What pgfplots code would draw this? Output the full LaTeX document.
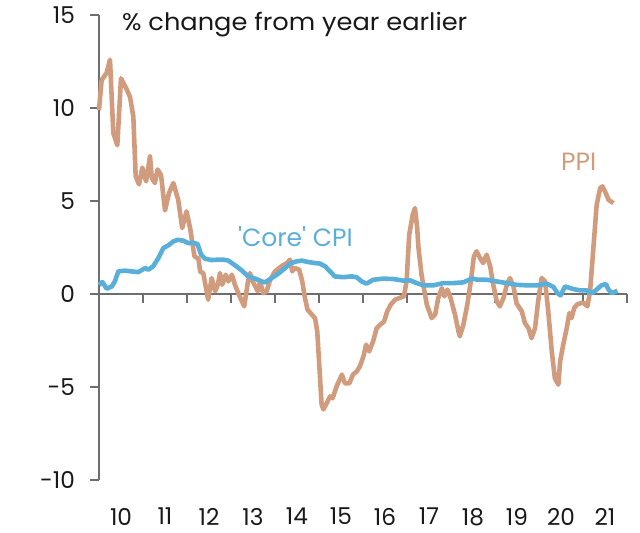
\documentclass[border=0pt]{standalone}
\usepackage{fontspec}
\setmainfont{Poppins}
\usepackage{graphicx}
\usepackage{pgfplots}
\pgfplotsset{compat=1.18}
\definecolor{ppicol}{RGB}{209,156,126}
\definecolor{cpicol}{RGB}{90,175,218}
\definecolor{axcol}{RGB}{110,110,110}
\definecolor{txtcol}{RGB}{25,25,25}
\begin{document}
\begin{tikzpicture}
\begin{axis}[
  at={(0,0)}, anchor=south west,
  scale only axis, width=264pt, height=232.5pt,
  xmin=2010, xmax=2022, ymin=-10, ymax=15,
  axis y line=left, axis x line=middle,
  axis line style={axcol, line width=0.7pt, -},
  xtick={2010,2011,...,2022}, xticklabels={},
  extra x ticks={2010.5,2011.5,...,2021.5},
  extra x tick labels={10,11,12,13,14,15,16,17,18,19,20,21},
  extra x tick style={major tick length=0pt, tick label style={yshift=-103.5pt}},
  ytick={-10,-5,0,5,10,15},
  tick align=outside, major tick length=4.5pt,
  tick style={axcol, line width=0.7pt},
  tick label style={font=\fontsize{11.6}{13}\selectfont, text=txtcol},
  /pgf/number format/assume math mode=true,
  yticklabel style={xshift=-4pt},
  clip=false,
]
\addplot[ppicol, line width=2.3pt, line join=round] coordinates {
(2010.00,9.9) (2010.06,11.5) (2010.175,11.9) (2010.25,12.6) (2010.325,8.66) (2010.416,8.0)
(2010.5,11.6) (2010.63,11.0) (2010.705,10.6) (2010.78,9.55) (2010.834,6.33) (2010.91,5.9)
(2010.984,6.8) (2011.07,6.06) (2011.16,7.4) (2011.2,6.24) (2011.27,5.97) (2011.33,6.7)
(2011.41,6.4) (2011.5,4.5) (2011.59,5.43) (2011.69,5.97) (2011.8,5.07) (2011.89,3.55)
(2011.99,4.45) (2012.07,3.55) (2012.17,2.03) (2012.26,1.9) (2012.30,1.2) (2012.37,1.13)
(2012.48,-0.3) (2012.56,0.86) (2012.64,0.15) (2012.70,0.5) (2012.75,1.13) (2012.80,0.5)
(2012.88,1.04) (2012.94,0.68) (2013.02,1.04) (2013.09,0.5) (2013.18,-0.03) (2013.30,-0.66)
(2013.38,0.59) (2013.43,1.13) (2013.51,0.6) (2013.61,0.15) (2013.66,0.68) (2013.73,0.05)
(2013.81,0.15) (2013.89,0.77) (2014.0,1.22) (2014.15,1.5) (2014.27,1.67) (2014.34,1.85)
(2014.39,1.22) (2014.45,1.4) (2014.55,1.31) (2014.62,0.68) (2014.68,-0.2) (2014.74,-0.84)
(2014.80,-1.0) (2014.91,-1.3) (2014.96,-2.0) (2015.06,-5.95) (2015.10,-6.2) (2015.175,-5.86)
(2015.25,-5.5) (2015.31,-5.6) (2015.40,-4.96) (2015.52,-4.33) (2015.59,-4.8) (2015.69,-4.8)
(2015.77,-4.33) (2015.86,-4.15) (2015.93,-3.88) (2016.01,-3.35) (2016.07,-2.72) (2016.14,-3.08)
(2016.23,-2.54) (2016.31,-1.83) (2016.39,-1.65) (2016.48,-1.47) (2016.55,-0.93) (2016.63,-0.57)
(2016.73,-0.3) (2016.84,-0.2) (2016.93,-0.12) (2016.99,0.68) (2017.05,3.19) (2017.13,4.27)
(2017.18,4.62) (2017.23,3.6) (2017.26,2.5) (2017.33,1.04) (2017.45,-0.57) (2017.56,-1.29)
(2017.64,-1.1) (2017.71,-0.21) (2017.79,0.32) (2017.85,-0.12) (2017.92,0.24) (2017.99,-0.2)
(2018.09,-1.1) (2018.17,-2.0) (2018.20,-2.27) (2018.28,-1.65) (2018.37,-0.57) (2018.45,0.68)
(2018.52,2.03) (2018.58,2.3) (2018.66,1.94) (2018.73,1.67) (2018.81,2.12) (2018.89,1.49)
(2018.96,0.5) (2019.04,-0.39) (2019.11,-0.66) (2019.19,-0.22) (2019.28,0.59) (2019.34,0.86)
(2019.42,0.4) (2019.49,-0.5) (2019.61,-0.93) (2019.68,-1.56) (2019.76,-1.83) (2019.83,-2.37)
(2019.91,-1.83) (2019.98,-0.39) (2020.06,0.86) (2020.14,0.68) (2020.21,-0.93) (2020.29,-3.08)
(2020.36,-4.52) (2020.44,-4.87) (2020.48,-3.62) (2020.55,-2.72) (2020.63,-1.83) (2020.69,-1.02)
(2020.74,-1.29) (2020.80,-0.75) (2020.86,-0.57) (2020.95,-0.48) (2021.02,-0.48) (2021.10,-0.66)
(2021.16,0.15) (2021.23,2.3) (2021.31,4.8) (2021.39,5.7) (2021.44,5.79) (2021.50,5.52)
(2021.58,5.07) (2021.69,4.89)
};
\addplot[cpicol, line width=2.3pt, line join=round] coordinates {
(2010.0,0.5) (2010.075,0.65) (2010.175,0.29) (2010.29,0.41) (2010.36,0.68) (2010.44,1.22)
(2010.59,1.26) (2010.74,1.22) (2010.89,1.18) (2011.05,1.4) (2011.12,1.31) (2011.23,1.49)
(2011.35,1.94) (2011.46,2.47) (2011.575,2.62) (2011.69,2.83) (2011.79,2.92) (2011.92,2.87)
(2012.03,2.74) (2012.14,2.76) (2012.24,2.69) (2012.32,2.12) (2012.41,1.9) (2012.56,1.83)
(2012.71,1.85) (2012.83,1.85) (2012.94,1.80) (2013.09,1.55) (2013.24,1.28) (2013.39,0.95)
(2013.55,0.83) (2013.70,0.68) (2013.77,0.63) (2013.925,0.86) (2014.075,1.1) (2014.23,1.4)
(2014.34,1.64) (2014.49,1.76) (2014.61,1.8) (2014.76,1.72) (2014.91,1.67) (2015.02,1.64)
(2015.14,1.49) (2015.25,1.22) (2015.36,0.95) (2015.55,0.91) (2015.74,0.95) (2015.86,0.9)
(2015.97,0.68) (2016.08,0.56) (2016.23,0.77) (2016.46,0.83) (2016.69,0.81) (2016.92,0.72)
(2017.07,0.74) (2017.22,0.59) (2017.37,0.47) (2017.60,0.47) (2017.825,0.59) (2018.05,0.59)
(2018.28,0.63) (2018.47,0.83) (2018.62,0.77) (2018.81,0.77) (2019.04,0.68) (2019.27,0.59)
(2019.49,0.5) (2019.72,0.47) (2019.95,0.47) (2020.175,0.56) (2020.33,0.38) (2020.42,0.05)
(2020.49,-0.07) (2020.59,0.41) (2020.78,0.27) (2020.93,0.2) (2021.08,0.2) (2021.20,0.05)
(2021.31,0.24) (2021.42,0.47) (2021.52,0.54) (2021.58,0.24) (2021.66,0.05) (2021.78,0.18)
};
\node[anchor=base west, text=txtcol, font=\fontsize{12}{14}\selectfont, inner sep=0pt]
  at (axis description cs:0.043,0.966) {\scalebox{1.07}[1]{\% change from year earlier}};
\node[anchor=base west, text=cpicol, font=\fontsize{12.5}{14}\selectfont, inner sep=0pt]
  at (axis description cs:0.2627,0.5026) {\textquotesingle Core\textquotesingle\ CPI};
\node[anchor=base west, text=ppicol, font=\fontsize{12.5}{14}\selectfont, inner sep=0pt]
  at (axis description cs:0.8744,0.6654) {PPI};
\end{axis}
\path[use as bounding box] (-49.5pt,-23.65pt) rectangle (270.5pt,239.35pt);
\end{tikzpicture}
\end{document}
